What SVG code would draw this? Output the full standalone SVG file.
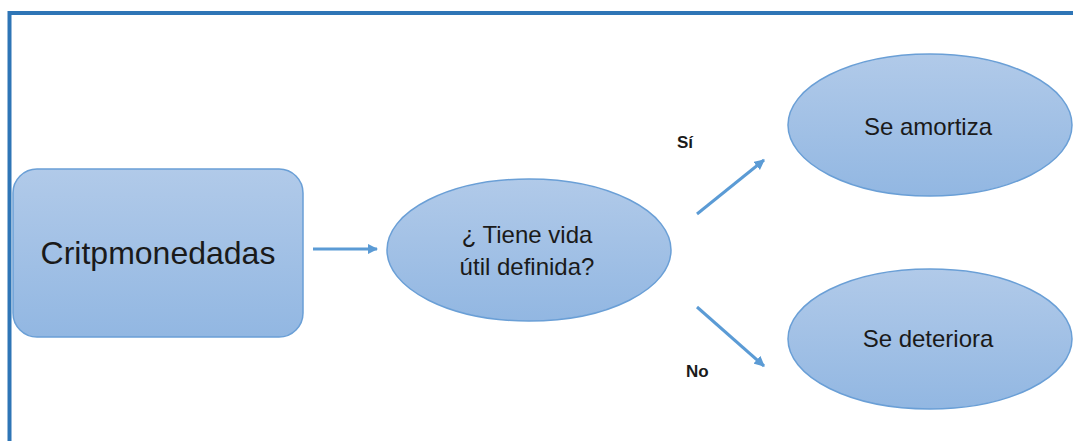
<svg xmlns="http://www.w3.org/2000/svg" width="1073" height="441" viewBox="0 0 1073 441">
<style>
.node{fill:url(#g);stroke:#6A9FD6;stroke-width:1.5}
.lbl{font-family:"Liberation Sans",Arial,sans-serif;fill:#1a1a1a;text-anchor:middle}
.edge{stroke:#5B9BD5;stroke-width:3;fill:none;marker-end:url(#ah)}
.yn{font-family:"Liberation Sans",Arial,sans-serif;font-weight:bold;font-size:17px;fill:#1a1a1a}
</style>
<defs>
<linearGradient id="g" x1="0" y1="0" x2="0" y2="1">
<stop offset="0" stop-color="#B1CAE9"/>
<stop offset="1" stop-color="#92B7E2"/>
</linearGradient>
<marker id="ah" viewBox="0 0 10 10" refX="9" refY="5" markerWidth="3.5" markerHeight="3.5" orient="auto" markerUnits="strokeWidth">
<path d="M0,0 L10,5 L0,10 z" fill="#5B9BD5"/>
</marker>
</defs>
<rect width="1073" height="441" fill="#fff"/>
<path d="M9.5,441 V13 H1073" fill="none" stroke="#2E75B6" stroke-width="4"/>
<g id="connectors">
<line class="edge" x1="313" y1="249" x2="377" y2="249"/>
<line class="edge" x1="697" y1="214" x2="764" y2="160"/>
<line class="edge" x1="697" y1="307" x2="764" y2="366"/>
<text class="yn" x="677" y="148">Sí</text>
<text class="yn" x="686" y="377">No</text>
</g>
<g id="cripto">
<rect class="node" x="13" y="169" width="290" height="168" rx="24"/>
<text class="lbl" x="158" y="264" font-size="32">Critpmonedadas</text>
</g>
<g id="pregunta">
<ellipse class="node" cx="529" cy="250" rx="142" ry="71"/>
<text class="lbl" x="527" y="243" font-size="24">¿ Tiene vida</text>
<text class="lbl" x="527" y="275" font-size="24">útil definida?</text>
</g>
<g id="amortiza">
<ellipse class="node" cx="930" cy="125" rx="142" ry="71"/>
<text class="lbl" x="928" y="135" font-size="24">Se amortiza</text>
</g>
<g id="deteriora">
<ellipse class="node" cx="930" cy="339" rx="142" ry="70"/>
<text class="lbl" x="928" y="347" font-size="24">Se deteriora</text>
</g>
</svg>
